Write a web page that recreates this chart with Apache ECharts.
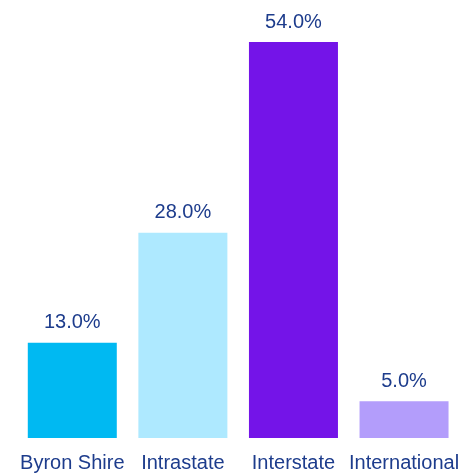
<!DOCTYPE html>
<html>
<head>
<meta charset="utf-8">
<script src="https://cdn.jsdelivr.net/npm/echarts@6/dist/echarts.min.js"></script>
<style>
  html, body { margin: 0; padding: 0; background: #ffffff; }
  #chart { width: 462px; height: 473px; }
</style>
</head>
<body>
<div id="chart"></div>
<script>
// Share of visitors by origin
const categories = ['Byron Shire', 'Intrastate', 'Interstate', 'International'];
const shares = [13.0, 28.0, 54.0, 5.0];
const barColors = ['#00b9f2', '#aee9ff', '#7414e8', '#b39dfb'];

const textColor = '#1d3c8c';
const chart = echarts.init(document.getElementById('chart'), null, { renderer: 'canvas' });

chart.setOption({
  animation: false,
  grid: { left: 17, right: 2, top: 42, bottom: 35 },
  xAxis: {
    type: 'category',
    data: categories,
    axisLine: { show: false },
    axisTick: { show: false },
    axisLabel: {
      color: textColor,
      fontFamily: '"Liberation Sans", Arial, sans-serif',
      fontSize: 20,
      margin: 15,
      interval: 0
    }
  },
  yAxis: {
    type: 'value',
    min: 0,
    max: 54,
    show: false,
    splitLine: { show: false }
  },
  series: [{
    type: 'bar',
    barWidth: 89,
    data: shares.map((v, i) => ({ value: v, itemStyle: { color: barColors[i] } })),
    label: {
      show: true,
      position: 'top',
      distance: 10,
      color: textColor,
      fontFamily: '"Liberation Sans", Arial, sans-serif',
      fontSize: 20,
      formatter: p => p.value.toFixed(1) + '%'
    }
  }]
});
</script>
</body>
</html>
